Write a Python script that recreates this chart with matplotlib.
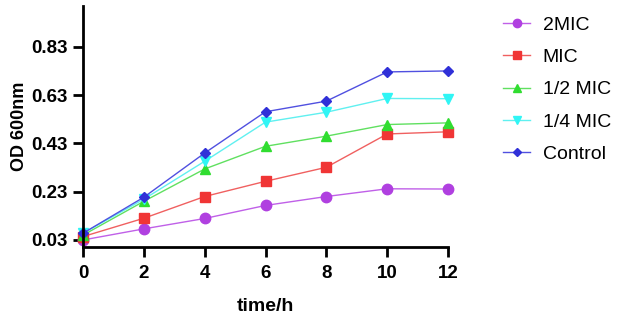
import numpy as np
import matplotlib
matplotlib.use('Agg')
import matplotlib.pyplot as plt

plt.rcParams['font.family'] = ['Liberation Sans', 'DejaVu Sans']

time_h = [0, 2, 4, 6, 8, 10, 12]
mic2 = [0.030, 0.076, 0.119, 0.173, 0.210, 0.242, 0.241]
mic = [0.044, 0.120, 0.210, 0.273, 0.331, 0.469, 0.478]
half_mic = [0.050, 0.190, 0.324, 0.418, 0.460, 0.508, 0.515]
quarter_mic = [0.058, 0.199, 0.356, 0.518, 0.559, 0.616, 0.615]
control = [0.058, 0.207, 0.390, 0.561, 0.605, 0.726, 0.730]

labels = ['2MIC', 'MIC', '1/2 MIC', '1/4 MIC', 'Control']
yticks = [0.03, 0.23, 0.43, 0.63, 0.83]

series = [mic2, mic, half_mic, quarter_mic, control]
markers = ['o', 's', '^', 'v', 'D']
colors = ['#B040E0', '#F03535', '#30DD30', '#30F5F5', '#3030D8']
line_colors = ['#C060E8', '#F06060', '#60E060', '#60F0F0', '#5050E0']
sizes = [7.5, 7, 7.5, 7.5, 5.5]

fig = plt.figure(figsize=(6.24, 3.19), dpi=100)
ax = fig.add_axes([0.133, 0.225, 0.585, 0.757])

for y, m, c, lc, s, lab in zip(series, markers, colors, line_colors, sizes, labels):
    ax.plot(time_h, y, marker=m, color=lc, markerfacecolor=c, markeredgecolor=c,
            markersize=s, linewidth=1.0, label=lab, clip_on=False)

ax.set_xlim(0, 12)
ax.set_ylim(0, 1.0)
ax.set_xticks(time_h)
ax.set_yticks(yticks)
ax.set_yticklabels(['%.2f' % v for v in yticks])

for sp in ['top', 'right']:
    ax.spines[sp].set_visible(False)
for sp in ['left', 'bottom']:
    ax.spines[sp].set_linewidth(2)
ax.tick_params(width=2, length=7, labelsize=13.5, pad=4)
ax.tick_params(axis='x', pad=6)
for t in ax.get_xticklabels() + ax.get_yticklabels():
    t.set_fontweight('bold')

ax.set_xlabel('time/h', fontsize=14, fontweight='bold', labelpad=11)
ax.set_ylabel('OD 600nm', fontsize=13, fontweight='bold', labelpad=2)

ax.legend(loc='upper left', bbox_to_anchor=(0.806, 0.95), bbox_transform=fig.transFigure,
          frameon=False, fontsize=14, handlelength=1.4, handletextpad=0.65,
          labelspacing=0.76, borderpad=0, borderaxespad=0, markerscale=0.8)

fig.savefig('out.png', dpi=100)
